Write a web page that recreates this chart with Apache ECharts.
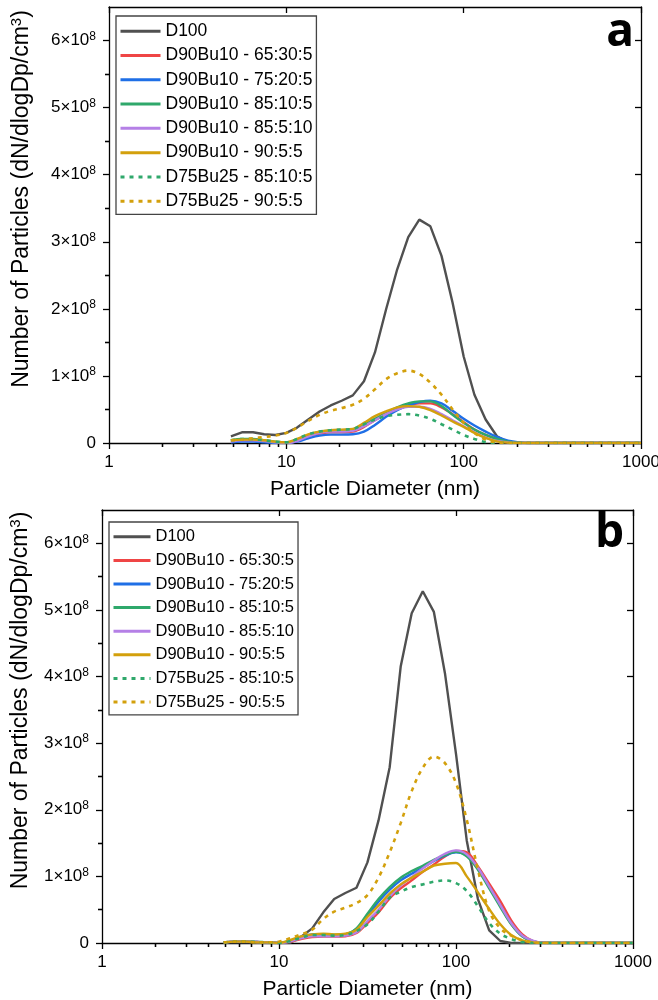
<!DOCTYPE html>
<html><head><meta charset="utf-8">
<script src="https://cdn.jsdelivr.net/npm/echarts@6/dist/echarts.min.js"></script>
<style>html,body{margin:0;padding:0;background:#fff}#c{width:658px;height:1000px}</style>
</head><body><div id="c"></div>
<script>
// Particle diameters (nm)
const diameters = [4.87, 5.62, 6.49, 7.50, 8.66, 10.0, 11.5, 13.3, 15.4, 17.8, 20.5, 23.7, 27.4, 31.6, 36.5, 42.2, 48.7, 56.2, 64.9, 75.0, 86.6, 100, 115, 133, 154, 178, 205, 237, 274, 316, 365, 422, 487, 562, 649, 750, 866, 1000];
const seriesNames = ['D100', 'D90Bu10 - 65:30:5', 'D90Bu10 - 75:20:5', 'D90Bu10 - 85:10:5', 'D90Bu10 - 85:5:10', 'D90Bu10 - 90:5:5', 'D75Bu25 - 85:10:5', 'D75Bu25 - 90:5:5'];

// Panel a values, units of 1e8 particles (dN/dlogDp/cm3)
const a_D100     = [0.10,0.16,0.16,0.13,0.12,0.15,0.23,0.35,0.47,0.56,0.63,0.71,0.92,1.35,1.99,2.59,3.07,3.33,3.23,2.79,2.09,1.29,0.72,0.35,0.10,0.01,0,0,0,0,0,0,0,0,0,0,0,0];
const a_653005   = [0.02,0.04,0.04,0.03,0.01,0.00,0.03,0.10,0.14,0.16,0.16,0.17,0.24,0.34,0.43,0.50,0.56,0.59,0.59,0.53,0.43,0.31,0.20,0.12,0.06,0.02,0.005,0,0,0,0,0,0,0,0,0,0,0];
const a_752005   = [0.01,0.02,0.02,0.01,0.00,0.00,0.02,0.07,0.11,0.125,0.125,0.13,0.17,0.27,0.39,0.49,0.56,0.61,0.63,0.59,0.48,0.36,0.26,0.17,0.09,0.035,0.01,0,0,0,0,0,0,0,0,0,0,0];
const a_851005   = [0.04,0.06,0.06,0.04,0.02,0.01,0.05,0.12,0.17,0.18,0.19,0.20,0.27,0.36,0.45,0.53,0.59,0.62,0.62,0.55,0.42,0.30,0.20,0.12,0.06,0.02,0.005,0,0,0,0,0,0,0,0,0,0,0];
const a_850510   = [0.02,0.04,0.04,0.03,0.01,0.00,0.03,0.10,0.15,0.17,0.17,0.18,0.25,0.34,0.43,0.50,0.54,0.54,0.51,0.43,0.34,0.25,0.16,0.08,0.03,0.01,0,0,0,0,0,0,0,0,0,0,0,0];
const a_900505   = [0.04,0.05,0.05,0.04,0.02,0.01,0.06,0.13,0.17,0.19,0.20,0.21,0.30,0.40,0.47,0.53,0.55,0.54,0.49,0.41,0.32,0.24,0.15,0.075,0.025,0.005,0,0,0,0,0,0,0,0,0,0,0,0];
const a_B25_851005 = [0.04,0.06,0.06,0.04,0.02,0.01,0.06,0.13,0.17,0.19,0.20,0.21,0.28,0.35,0.40,0.42,0.43,0.41,0.36,0.28,0.20,0.12,0.06,0.015,0,0,0,0,0,0,0,0,0,0,0,0,0,0];
const a_B25_900505 = [0.04,0.05,0.07,0.09,0.11,0.15,0.23,0.33,0.42,0.48,0.52,0.57,0.66,0.80,0.95,1.04,1.08,1.03,0.90,0.72,0.50,0.30,0.15,0.05,0.01,0,0,0,0,0,0,0,0,0,0,0,0,0];

// Panel b values, units of 1e8
const b_D100     = [0.01,0.01,0.01,0.01,0,0,0,0.09,0.22,0.46,0.66,0.75,0.83,1.21,1.84,2.64,4.15,4.95,5.28,4.97,4.05,2.84,1.54,0.66,0.19,0.03,0,0,0,0,0,0,0,0,0,0,0,0];
const b_653005   = [0.01,0.02,0.02,0.015,0.01,0,0.02,0.06,0.09,0.095,0.095,0.10,0.15,0.30,0.46,0.67,0.82,0.94,1.07,1.18,1.30,1.38,1.36,1.15,0.89,0.63,0.34,0.13,0.025,0.005,0,0,0,0,0,0,0,0];
const b_752005   = [0.01,0.02,0.02,0.015,0.01,0,0.03,0.09,0.13,0.13,0.12,0.13,0.21,0.41,0.62,0.80,0.94,1.04,1.13,1.23,1.31,1.36,1.31,1.12,0.84,0.56,0.29,0.10,0.025,0,0,0,0,0,0,0,0,0];
const b_851005   = [0.01,0.02,0.02,0.015,0.01,0,0.03,0.08,0.12,0.13,0.12,0.13,0.22,0.44,0.66,0.84,0.98,1.08,1.16,1.25,1.32,1.37,1.30,1.10,0.82,0.54,0.28,0.10,0.025,0,0,0,0,0,0,0,0,0];
const b_850510   = [0.01,0.02,0.02,0.015,0.01,0,0.02,0.07,0.10,0.10,0.10,0.11,0.16,0.33,0.50,0.70,0.86,0.99,1.12,1.24,1.34,1.39,1.33,1.13,0.85,0.57,0.30,0.11,0.03,0,0,0,0,0,0,0,0,0];
const b_900505   = [0.01,0.02,0.02,0.01,0.01,0,0.04,0.10,0.13,0.14,0.13,0.14,0.20,0.39,0.56,0.74,0.88,0.98,1.07,1.16,1.19,1.20,1.00,0.76,0.51,0.28,0.12,0.04,0.01,0,0,0,0,0,0,0,0,0];
const b_B25_851005 = [0.01,0.02,0.02,0.015,0.01,0,0.03,0.08,0.12,0.12,0.11,0.12,0.18,0.28,0.47,0.68,0.77,0.84,0.88,0.92,0.94,0.90,0.78,0.55,0.30,0.14,0.06,0.015,0,0,0,0,0,0,0,0,0,0];
const b_B25_900505 = [0.01,0.02,0.02,0.01,0.01,0.02,0.07,0.13,0.20,0.36,0.47,0.53,0.60,0.72,0.98,1.36,1.80,2.28,2.63,2.80,2.70,2.40,1.85,1.10,0.48,0.22,0.11,0.04,0.01,0,0,0,0,0,0,0,0,0];

// Axis ticks
const xTickLabels = ['1', '10', '100', '1000'];
const xMinorTickValues = [2,3,4,5,6,7,8,9,20,30,40,50,60,70,80,90,200,300,400,500,600,700,800,900];
const yTickValues = [0,1,2,3,4,5,6];
const yMinorTickValues = [0.5,1.5,2.5,3.5,4.5,5.5];

const panelA = [a_D100, a_653005, a_752005, a_851005, a_850510, a_900505, a_B25_851005, a_B25_900505];
const panelB = [b_D100, b_653005, b_752005, b_851005, b_850510, b_900505, b_B25_851005, b_B25_900505];

const FONT = 'Liberation Sans';
const colors = ['#505050', '#ef4545', '#1f6fe6', '#2fa86b', '#b580e6', '#d3a00c', '#2fa86b', '#d3a00c'];
const dotted = [false, false, false, false, false, false, true, true];

const grids = [
  {left: 109, right: 17, top: 7, height: 436, outerBoundsMode: 'none', containLabel: false},
  {left: 102, right: 25, top: 510, height: 433, outerBoundsMode: 'none', containLabel: false}
];
const yNameGaps = [75, 69];

const blk = {color: '#000', width: 1.3};
const xAxes = [], yAxes = [];
grids.forEach((g, gi) => {
  xAxes.push({
    type: 'log', logBase: 10, gridIndex: gi, position: 'bottom', min: 1, max: 1000,
    axisLine: {show: true, onZero: false, lineStyle: blk},
    axisTick: {show: true, inside: false, length: 6, lineStyle: blk},
    axisLabel: {show: true, color: '#000', fontSize: 17, fontFamily: FONT, margin: 11,
      formatter: v => xTickLabels[Math.round(Math.log10(v))] || ''},
    splitLine: {show: false},
    name: 'Particle Diameter (nm)', nameLocation: 'middle', nameGap: 36,
    nameTextStyle: {color: '#000', fontSize: 21, fontFamily: FONT}
  });
  xAxes.push({
    type: 'value', gridIndex: gi, position: 'bottom', min: 0, max: 3,
    axisLine: {show: false},
    axisTick: {show: true, inside: false, length: 4, lineStyle: blk, customValues: xMinorTickValues.map(Math.log10)},
    axisLabel: {show: false}, splitLine: {show: false}
  });
  xAxes.push({
    type: 'log', logBase: 10, gridIndex: gi, position: 'top', min: 1, max: 1000,
    axisLine: {show: true, onZero: false, lineStyle: blk},
    axisTick: {show: true, inside: true, length: 6, lineStyle: blk},
    axisLabel: {show: false}, splitLine: {show: false}
  });
  xAxes.push({
    type: 'value', gridIndex: gi, position: 'top', min: 0, max: 3,
    axisLine: {show: false},
    axisTick: {show: true, inside: true, length: 4, lineStyle: blk, customValues: xMinorTickValues.map(Math.log10)},
    axisLabel: {show: false}, splitLine: {show: false}
  });
  yAxes.push({
    type: 'value', gridIndex: gi, position: 'left', min: 0, max: 6.5,
    axisLine: {show: true, onZero: false, lineStyle: blk},
    axisTick: {show: true, inside: false, length: 6, lineStyle: blk, customValues: yTickValues},
    axisLabel: {show: true, customValues: yTickValues, margin: 13, color: '#000', fontSize: 17, fontFamily: FONT,
      formatter: v => v === 0 ? '0' : '{m|' + v + '×10}{s|8}',
      rich: {m: {fontSize: 17, fontFamily: FONT, color: '#000'}, s: {fontSize: 12, fontFamily: FONT, color: '#000', padding: [0, 0, 8, 0]}}},
    splitLine: {show: false},
    name: 'Number of Particles (dN/dlogDp/cm{s|3})', nameLocation: 'middle', nameGap: yNameGaps[gi],
    nameTextStyle: {color: '#000', fontSize: 23, fontFamily: FONT, padding: [0, 0, 0, 52],
      rich: {s: {fontSize: 15, fontFamily: FONT, color: '#000', padding: [0, 0, 10, 0]}}}
  });
  yAxes.push({
    type: 'value', gridIndex: gi, position: 'left', min: 0, max: 6.5,
    axisLine: {show: false},
    axisTick: {show: true, inside: false, length: 4, lineStyle: blk, customValues: yMinorTickValues},
    axisLabel: {show: false}, splitLine: {show: false}
  });
  yAxes.push({
    type: 'value', gridIndex: gi, position: 'right', min: 0, max: 6.5,
    axisLine: {show: true, onZero: false, lineStyle: blk},
    axisTick: {show: true, inside: true, length: 6, lineStyle: blk, customValues: yTickValues},
    axisLabel: {show: false}, splitLine: {show: false}
  });
  yAxes.push({
    type: 'value', gridIndex: gi, position: 'right', min: 0, max: 6.5,
    axisLine: {show: false},
    axisTick: {show: true, inside: true, length: 4, lineStyle: blk, customValues: yMinorTickValues},
    axisLabel: {show: false}, splitLine: {show: false}
  });
});

const series = [];
[panelA, panelB].forEach((panel, gi) => {
  panel.forEach((vals, si) => {
    series.push({
      type: 'line', name: seriesNames[si], xAxisIndex: gi * 4, yAxisIndex: gi * 4,
      data: diameters.map((d, i) => [d, vals[i]]),
      showSymbol: false, symbol: 'none', symbolSize: 0, smooth: si === 0 ? false : 0.35,
      lineStyle: {color: colors[si], width: dotted[si] ? 2.6 : 2.4, type: dotted[si] ? [4, 5] : 'solid', cap: 'butt'},
      itemStyle: {color: colors[si]},
      z: 2 + si, silent: true
    });
  });
});

const legendBase = {
  orient: 'vertical', itemHeight: 14, itemGap: 0, padding: [3, 4, 1, 3],
  borderColor: '#444', borderWidth: 1.3, backgroundColor: '#fff', selectedMode: false,
  itemStyle: {opacity: 0},
  lineStyle: {width: 3},
  data: seriesNames
};

const option = {
  animation: false,
  backgroundColor: '#fff',
  title: [
    {text: 'a', right: 19, top: 5, textStyle: {fontSize: 46, fontWeight: 'bold', fontFamily: 'Open Sans', color: '#000'}},
    {text: 'b', right: 29, top: 506, textStyle: {fontSize: 46, fontWeight: 'bold', fontFamily: 'Open Sans', color: '#000'}}
  ],
  legend: [
    Object.assign({}, legendBase, {left: 116, top: 16, itemWidth: 40,
      textStyle: {fontSize: 17.5, color: '#000', fontFamily: FONT, lineHeight: 24.3}}),
    Object.assign({}, legendBase, {left: 109, top: 522, itemWidth: 37,
      textStyle: {fontSize: 16.5, color: '#000', fontFamily: FONT, lineHeight: 23.6}})
  ],
  grid: grids,
  xAxis: xAxes,
  yAxis: yAxes,
  series: series
};

const chart = echarts.init(document.getElementById('c'), null, {renderer: 'canvas'});
chart.setOption(option);
</script>
</body></html>
